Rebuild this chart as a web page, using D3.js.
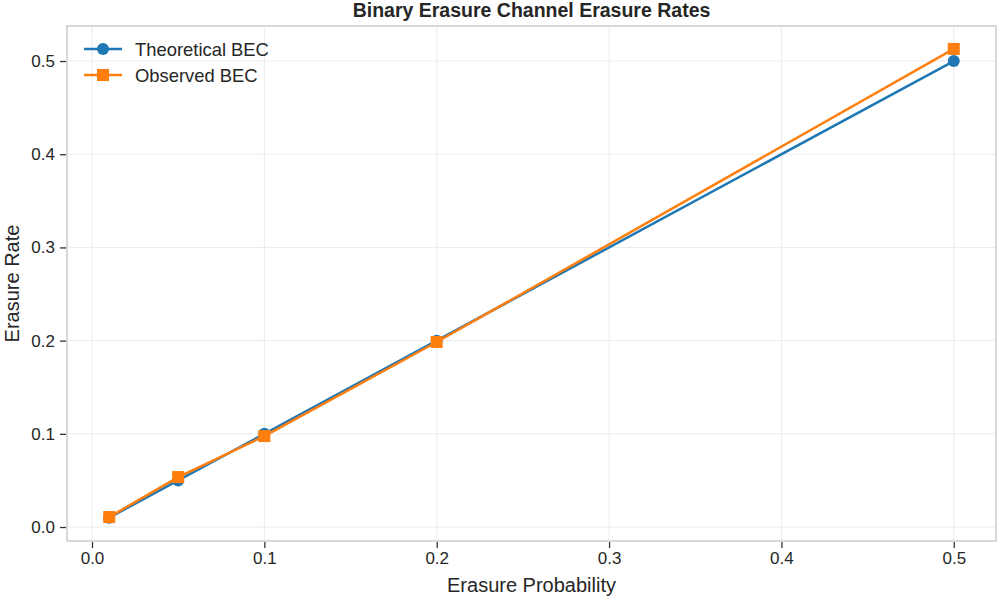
<!DOCTYPE html>
<html>
<head>
<meta charset="utf-8">
<script src="https://cdn.jsdelivr.net/npm/d3@7"></script>
<style>
  body { margin: 0; background: #fff; }
  text { font-family: "Liberation Sans", Arial, sans-serif; fill: #262626; }
</style>
</head>
<body>
<div id="chart"></div>
<script>
const probs = [0.01, 0.05, 0.1, 0.2, 0.5];
const theoretical = [0.01, 0.05, 0.1, 0.2, 0.5];
const observed = [0.0107, 0.0536, 0.0976, 0.1985, 0.513];
const xTicks = [0.0, 0.1, 0.2, 0.3, 0.4, 0.5];
const yTicks = [0.0, 0.1, 0.2, 0.3, 0.4, 0.5];

const width = 1000, height = 600;
const margin = { left: 67, right: 4, top: 26, bottom: 59 };

const svg = d3.select("#chart").append("svg")
  .attr("width", width)
  .attr("height", height);

const x = d3.scaleLinear().domain([-0.0145, 0.5245]).range([margin.left, width - margin.right]);
const y = d3.scaleLinear().domain([-0.015, 0.5376]).range([height - margin.bottom, margin.top]);

// grid
svg.append("g").selectAll("line")
  .data(xTicks).enter().append("line")
  .attr("x1", d => x(d)).attr("x2", d => x(d))
  .attr("y1", margin.top).attr("y2", height - margin.bottom)
  .attr("stroke", "#ebebeb").attr("stroke-width", 1);

svg.append("g").selectAll("line")
  .data(yTicks).enter().append("line")
  .attr("x1", margin.left).attr("x2", width - margin.right)
  .attr("y1", d => y(d)).attr("y2", d => y(d))
  .attr("stroke", "#ebebeb").attr("stroke-width", 1);

// frame
svg.append("rect")
  .attr("x", margin.left).attr("y", margin.top)
  .attr("width", width - margin.left - margin.right)
  .attr("height", height - margin.top - margin.bottom)
  .attr("fill", "none").attr("stroke", "#cccccc").attr("stroke-width", 1.5);

// axes
const xAxis = svg.append("g")
  .attr("transform", `translate(0,${height - margin.bottom + 1})`)
  .call(d3.axisBottom(x).tickValues(xTicks).tickFormat(d3.format(".1f")).tickSize(6).tickPadding(4));
const yAxis = svg.append("g")
  .attr("transform", `translate(${margin.left - 1},0)`)
  .call(d3.axisLeft(y).tickValues(yTicks).tickFormat(d3.format(".1f")).tickSize(6).tickPadding(5));

[xAxis, yAxis].forEach(a => {
  a.select(".domain").remove();
  a.selectAll(".tick line").attr("stroke", "#333").attr("stroke-width", 1.3);
  a.selectAll(".tick text").attr("font-size", "17px").attr("fill", "#262626")
    .style("font-family", "'Liberation Sans', Arial, sans-serif");
});

// labels
svg.append("text")
  .attr("x", (margin.left + width - margin.right) / 2).attr("y", 592)
  .attr("text-anchor", "middle").attr("font-size", "20px")
  .text("Erasure Probability");

svg.append("text")
  .attr("transform", `translate(19,${(margin.top + height - margin.bottom) / 2}) rotate(-90)`)
  .attr("text-anchor", "middle").attr("font-size", "20px")
  .text("Erasure Rate");

svg.append("text")
  .attr("x", (margin.left + width - margin.right) / 2).attr("y", 17)
  .attr("text-anchor", "middle").attr("font-size", "19.5px").attr("font-weight", "bold")
  .text("Binary Erasure Channel Erasure Rates");

// series
const line = d3.line().x(d => x(d[0])).y(d => y(d[1]));
const tData = probs.map((p, i) => [p, theoretical[i]]);
const oData = probs.map((p, i) => [p, observed[i]]);

svg.append("path").datum(tData)
  .attr("d", line).attr("fill", "none")
  .attr("stroke", "#1f77b4").attr("stroke-width", 2.5);
svg.append("g").selectAll("circle")
  .data(tData).enter().append("circle")
  .attr("cx", d => x(d[0])).attr("cy", d => y(d[1]))
  .attr("r", 6).attr("fill", "#1f77b4");

svg.append("path").datum(oData)
  .attr("d", line).attr("fill", "none")
  .attr("stroke", "#ff7f0e").attr("stroke-width", 2.5);
svg.append("g").selectAll("rect")
  .data(oData).enter().append("rect")
  .attr("x", d => x(d[0]) - 6).attr("y", d => y(d[1]) - 6)
  .attr("width", 12).attr("height", 12).attr("fill", "#ff7f0e");

// legend
const legend = svg.append("g");
const items = [
  { name: "Theoretical BEC", color: "#1f77b4", shape: "circle" },
  { name: "Observed BEC", color: "#ff7f0e", shape: "square" }
];
items.forEach((it, i) => {
  const ly = 49 + i * 26;
  legend.append("line")
    .attr("x1", 84).attr("x2", 122).attr("y1", ly).attr("y2", ly)
    .attr("stroke", it.color).attr("stroke-width", 2.5);
  if (it.shape === "circle") {
    legend.append("circle").attr("cx", 103).attr("cy", ly).attr("r", 6).attr("fill", it.color);
  } else {
    legend.append("rect").attr("x", 97).attr("y", ly - 6).attr("width", 12).attr("height", 12).attr("fill", it.color);
  }
  legend.append("text")
    .attr("x", 135).attr("y", ly + 6.5)
    .attr("font-size", "18.4px")
    .text(it.name);
});
</script>
</body>
</html>
